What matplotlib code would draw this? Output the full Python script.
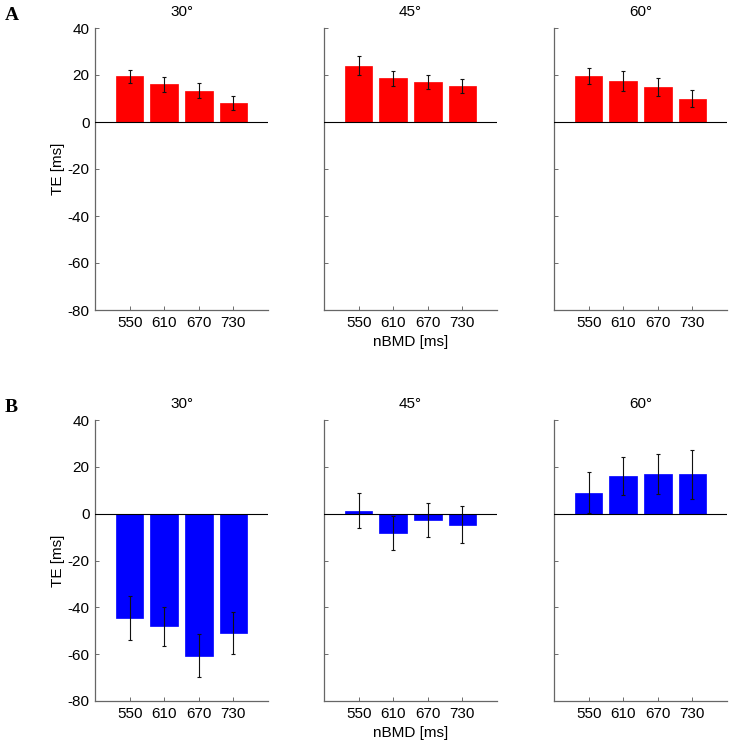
import matplotlib
matplotlib.use("Agg")
import matplotlib.pyplot as plt
import numpy as np

plt.rcParams['font.family'] = ['Liberation Sans', 'DejaVu Sans']

categories = ['550', '610', '670', '730']
angles = ['30°', '45°', '60°']

# Panel A (red)
A_vals = [[19.4, 16.0, 13.3, 8.1],
          [24.0, 18.6, 17.1, 15.3],
          [19.6, 17.6, 15.0, 9.9]]
A_err = [[2.9, 3.3, 3.1, 3.0],
         [4.2, 3.3, 3.0, 3.1],
         [3.4, 4.2, 3.8, 3.7]]
# Panel B (blue)
B_vals = [[-44.5, -48.1, -60.7, -50.9],
          [1.3, -8.1, -2.7, -4.7],
          [9.0, 15.9, 16.9, 16.9]]
B_err = [[9.4, 8.3, 9.1, 8.9],
         [7.4, 7.3, 7.1, 8.0],
         [8.7, 8.1, 8.7, 10.5]]

yticks = [-80, -60, -40, -20, 0, 20, 40]

W, H = 733, 749
fig = plt.figure(figsize=(W / 100, H / 100), dpi=100)

col_left = [95, 324, 554]
ax_w = 173
rows = [(28, 310), (420, 701)]
fs = 11

def make_panel(left, top, bottom, vals, errs, color, title, first):
    ax = fig.add_axes([left / W, 1 - bottom / H, ax_w / W, (bottom - top) / H])
    x = np.arange(1, len(categories) + 1)
    ax.bar(x, vals, width=0.8, color=color, edgecolor=color, linewidth=0.5, zorder=2)
    ax.errorbar(x, vals, yerr=errs, fmt='none', ecolor='#111111', elinewidth=0.8,
                capsize=1.5, capthick=0.8, zorder=3)
    ax.axhline(0, color='black', linewidth=0.8, zorder=4)
    ax.set_xlim(0, 5)
    ax.set_ylim(-80, 40)
    ax.set_xticks(x)
    ax.set_xticklabels(categories, fontsize=fs)
    ax.set_yticks(yticks)
    if first:
        ax.set_yticklabels([str(t) for t in yticks], fontsize=fs)
        ax.set_ylabel('TE [ms]', fontsize=fs, labelpad=2)
    else:
        ax.set_yticklabels([])
    ax.tick_params(direction='in', length=3, width=0.6, colors='#555555',
                   labelcolor='black', pad=4)
    for s in ['top', 'right']:
        ax.spines[s].set_visible(False)
    for s in ['left', 'bottom']:
        ax.spines[s].set_color('#666666')
        ax.spines[s].set_linewidth(0.9)
    ax.set_title(title, fontsize=fs, pad=9)
    return ax

for r, (vals_set, err_set, color) in enumerate([(A_vals, A_err, '#ff0000'),
                                                 (B_vals, B_err, '#0000ff')]):
    top, bottom = rows[r]
    for c in range(3):
        ax = make_panel(col_left[c], top, bottom, vals_set[c], err_set[c], color,
                        angles[c], c == 0)
        if c == 1:
            ax.set_xlabel('nBMD [ms]', fontsize=fs, labelpad=4)

fig.text(5 / W, 1 - 16 / H, 'A', fontsize=14, fontweight='bold',
         family='Liberation Serif', va='center', ha='left')
fig.text(5 / W, 1 - 407 / H, 'B', fontsize=14, fontweight='bold',
         family='Liberation Serif', va='center', ha='left')

fig.savefig('out.png', dpi=100)
